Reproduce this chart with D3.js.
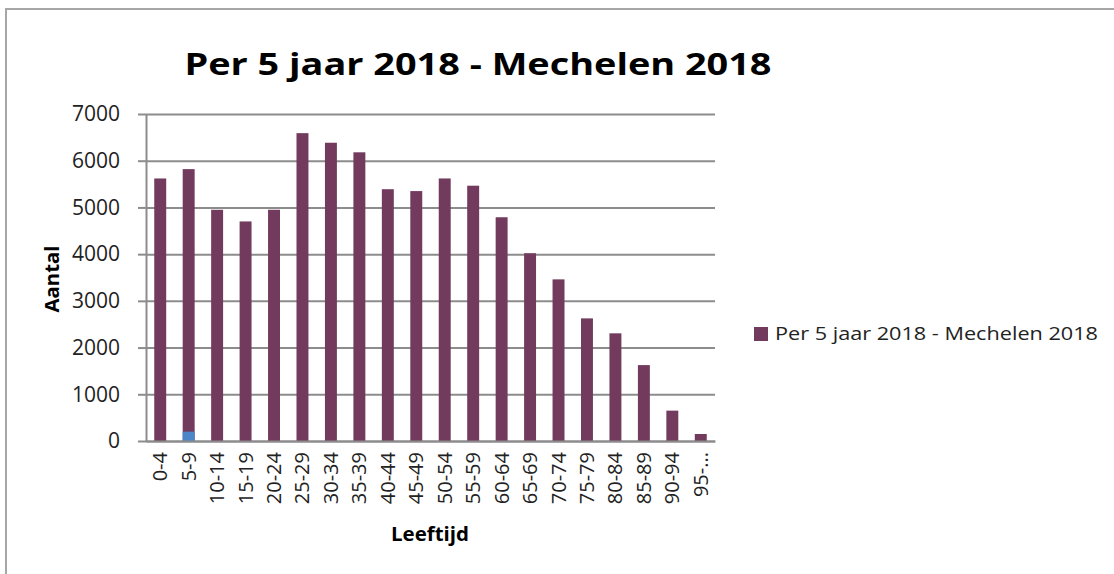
<!doctype html>
<html>
<head>
  <script src="https://d3js.org/d3.v7.min.js"></script>
  <style>
  body { margin: 0; background: #fff; }
  svg { font-family: "Open Sans", sans-serif; display: block; }
  .grid line { stroke: #8c8c8c; stroke-width: 2; }
  .grid path { display: none; }
  .axis path, .axis line { stroke: #8c8c8c; stroke-width: 2; }
  .axis text { fill: #222; font-family: "Open Sans", sans-serif; }
  </style>
</head>
<body>
<script>
  // age groups and counts
  var ageGroups = ["0-4", "5-9", "10-14", "15-19", "20-24", "25-29", "30-34", "35-39",
                   "40-44", "45-49", "50-54", "55-59", "60-64", "65-69", "70-74",
                   "75-79", "80-84", "85-89", "90-94", "95-..."];
  var counts = [5620, 5820, 4950, 4700, 4950, 6590, 6385, 6180, 5390, 5350,
                5620, 5465, 4790, 4020, 3460, 2625, 2305, 1625, 650, 150];
  // small blue stray series at the bottom of 5-9
  var extra = [0, 200, 0, 0, 0, 0, 0, 0, 0, 0, 0, 0, 0, 0, 0, 0, 0, 0, 0, 0];
  var yTicks = [0, 1000, 2000, 3000, 4000, 5000, 6000, 7000];
  var seriesName = "Per 5 jaar 2018 - Mechelen 2018";

  var width = 1114, height = 574;
  var margin = {left: 146, right: 399, top: 114, bottom: 133};
  var plotW = width - margin.left - margin.right,
      plotH = height - margin.top - margin.bottom;

  var svg = d3.select("body").append("svg")
      .attr("width", width)
      .attr("height", height);

  // outer chart border
  svg.append("rect")
      .attr("x", 6).attr("y", 9)
      .attr("width", width + 20).attr("height", height + 20)
      .attr("fill", "none")
      .attr("stroke", "#a6a6a6")
      .attr("stroke-width", 2);

  var g = svg.append("g")
      .attr("transform", "translate(" + margin.left + "," + margin.top + ")");

  var x = d3.scaleBand()
      .domain(ageGroups)
      .range([0, plotW])
      .paddingInner(0.58)
      .paddingOuter(0.29);

  var y = d3.scaleLinear()
      .domain([0, 7000])
      .range([plotH, 0]);

  // gridlines
  g.append("g")
      .attr("class", "grid")
      .call(d3.axisLeft(y).tickValues(yTicks).tickSize(-plotW).tickFormat(""));

  // y axis
  g.append("g")
      .attr("class", "axis")
      .call(d3.axisLeft(y).tickValues(yTicks).tickFormat(d3.format("d"))
        .tickSizeInner(8).tickSizeOuter(0).tickPadding(18))
      .selectAll("text")
      .style("font-size", "21px");

  // bars
  g.selectAll(".bar")
      .data(ageGroups)
    .enter().append("rect")
      .attr("class", "bar")
      .attr("x", function(d) { return x(d); })
      .attr("width", x.bandwidth())
      .attr("y", function(d, i) { return y(counts[i]); })
      .attr("height", function(d, i) { return plotH - y(counts[i]); })
      .attr("fill", "#723b5e");

  g.selectAll(".extra")
      .data(ageGroups.filter(function(d, i) { return extra[i] > 0; }))
    .enter().append("rect")
      .attr("class", "extra")
      .attr("x", function(d) { return x(d); })
      .attr("width", x.bandwidth())
      .attr("y", function(d) { return y(extra[ageGroups.indexOf(d)]); })
      .attr("height", function(d) { return plotH - y(extra[ageGroups.indexOf(d)]); })
      .attr("fill", "#4a86c8");

  // x axis
  var xAxis = g.append("g")
      .attr("class", "axis")
      .attr("transform", "translate(0," + plotH + ")")
      .call(d3.axisBottom(x).tickSize(0).tickPadding(0));
  xAxis.selectAll("text")
      .style("font-size", "20px")
      .attr("text-anchor", "end")
      .attr("transform", "rotate(-90)")
      .attr("x", -11)
      .attr("y", 0)
      .attr("dy", "0.35em");

  // title
  svg.append("text")
      .attr("x", 478)
      .attr("y", 75)
      .attr("text-anchor", "middle")
      .attr("textLength", 587)
      .attr("lengthAdjust", "spacingAndGlyphs")
      .style("font-size", "31px")
      .style("font-weight", "bold")
      .text(seriesName);

  // axis titles
  svg.append("text")
      .attr("transform", "translate(59,279) rotate(-90)")
      .attr("text-anchor", "middle")
      .attr("textLength", 67)
      .attr("lengthAdjust", "spacingAndGlyphs")
      .style("font-size", "19px")
      .style("font-weight", "bold")
      .text("Aantal");

  svg.append("text")
      .attr("x", 430)
      .attr("y", 541)
      .attr("text-anchor", "middle")
      .attr("textLength", 78)
      .attr("lengthAdjust", "spacingAndGlyphs")
      .style("font-size", "19px")
      .style("font-weight", "bold")
      .text("Leeftijd");

  // legend
  var legend = svg.append("g").attr("transform", "translate(754,327)");
  legend.append("rect")
      .attr("width", 14).attr("height", 14)
      .attr("fill", "#723b5e");
  legend.append("text")
      .attr("x", 21)
      .attr("y", 13)
      .attr("textLength", 323)
      .attr("lengthAdjust", "spacingAndGlyphs")
      .style("font-size", "19px")
      .attr("fill", "#222")
      .text(seriesName);
</script>
</body>
</html>
